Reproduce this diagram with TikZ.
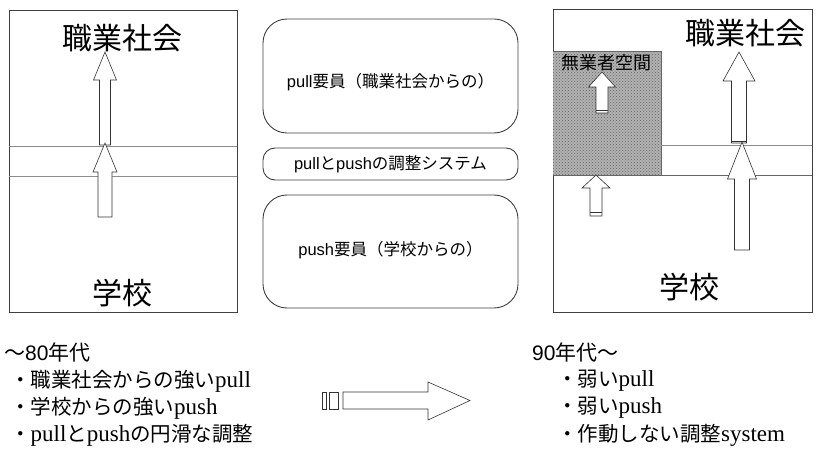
\documentclass[tikz,border=0pt]{standalone}
\usepackage{fontspec}
\setmainfont{Noto Sans CJK JP}
\newfontfamily\latserif{Liberation Serif}
\newfontfamily\latsans{Liberation Sans}
\usetikzlibrary{patterns}
\newcommand\lat[1]{{\latserif\fontsize{23}{23}\selectfont #1}}
\newcommand\las[1]{{\latsans #1}}
\newcommand\upblock[7]{% name, x, tip y, head base y, bottom y, head half, shaft half
  \draw[blk] (#2,#3) coordinate (#1) -- (#2+#6,#4) -- (#2+#7,#4) -- (#2+#7,#5) -- (#2-#7,#5) -- (#2-#7,#4) -- (#2-#6,#4) -- cycle;}
\tikzset{
  frame/.style={draw=black!75, line width=0.9pt},
  sepline/.style={draw=black!45, line width=0.8pt},
  blk/.style={draw=black!80, fill=white, line width=0.6pt, line join=miter},
  rbox/.style={draw=black!75, line width=0.9pt, rounded corners=24pt, minimum width=255pt},
  big/.style={font=\fontsize{30}{30}\selectfont, inner sep=0pt},
  mid/.style={font=\fontsize{16.5}{16.5}\selectfont, inner sep=0pt},
  era/.style={font=\fontsize{21}{21}\selectfont, anchor=west, inner sep=0pt},
  bul/.style={font=\fontsize{20.5}{20.5}\selectfont, anchor=west, inner sep=0pt},
}
\begin{document}
\begin{tikzpicture}[x=1pt,y=-1pt]
\useasboundingbox (0,0) rectangle (816,449);
% ---------- left panel ----------
\draw[frame] (9,10) rectangle (237,312);
\draw[sepline] (9,146) -- (237,146);
\draw[sepline] (9,176) -- (237,176);
\node[big] (lsoc) at (122,38) {職業社会};
\node[big] (lsch) at (122,293) {学校};
\upblock{la1}{105}{52}{80}{145}{11.5}{5.5}
\upblock{la2}{105}{143}{172}{217}{12}{7}
% ---------- middle ----------
\node[rbox, minimum height=114pt] (pullbox) at (390.5,76) {};
\node[mid] (pulltxt) at (390.5,82) {\las{pull}要員（職業社会からの）};
\node[rbox, minimum height=32pt, rounded corners=12pt, mid] (adjbox) at (390.5,164) {\las{pull}と\las{push}の調整システム};
\node[rbox, minimum height=113pt] (pushbox) at (390.5,251.5) {};
\node[mid] (pushtxt) at (390.5,250) {\las{push}要員（学校からの）};
% ---------- right panel ----------
\draw[frame] (553,9) rectangle (812,312);
\fill[gray!60] (553,51) rectangle (661,175);
\fill[pattern=crosshatch dots, pattern color=black!60] (553,51) rectangle (661,175);
\draw[black!60, line width=0.6pt] (553,51) -- (661,51) -- (661,175);
\draw[sepline] (661,145) -- (812,145);
\draw[sepline, draw=black!60] (553,175) -- (812,175);
\node[font=\fontsize{18}{18}\selectfont, inner sep=0pt] (muggy) at (606,63) {無業者空間};
\node[big] (rsoc) at (745,33) {職業社会};
\node[big] (rsch) at (689,287) {学校};
\upblock{ra1}{602}{72}{87}{113}{13.5}{6}
\draw[black!80, line width=0.6pt] (596,110) -- (608,110);
\upblock{ra2}{596}{175}{188}{216}{14}{6}
\draw[black!80, line width=0.6pt] (590,212) -- (602,212);
\upblock{ra3}{739}{52}{81}{143}{16}{7.5}
\draw[black!80, line width=0.6pt] (731.5,141) -- (746.5,141);
\upblock{ra4}{742}{142}{179}{250}{14.5}{7.5}
% ---------- bottom texts ----------
\node[era] (e80) at (4,352) {～\las{80}年代};
\node[bul] (b1) at (10,381) {・職業社会からの強い\lat{pull}};
\node[bul] (b2) at (10,408) {・学校からの強い\lat{push}};
\node[bul] (b3) at (10,435) {・\lat{pull}と\lat{push}の円滑な調整};
\node[era] (e90) at (532,352) {\las{90}年代～};
\node[bul] (c1) at (557,381) {・弱い\lat{pull}};
\node[bul] (c2) at (557,408) {・弱い\lat{push}};
\node[bul] (c3) at (557,435) {・作動しない調整\lat{system}};
% ---------- transition arrow ----------
\draw[blk] (322,392) rectangle (326,409);
\draw[blk] (329,392) rectangle (338,409);
\draw[blk] (343,392) coordinate (ha) -- (428,392) -- (428,382) -- (470,400.5) -- (428,420) -- (428,409) -- (343,409) -- cycle;
\end{tikzpicture}
\end{document}
